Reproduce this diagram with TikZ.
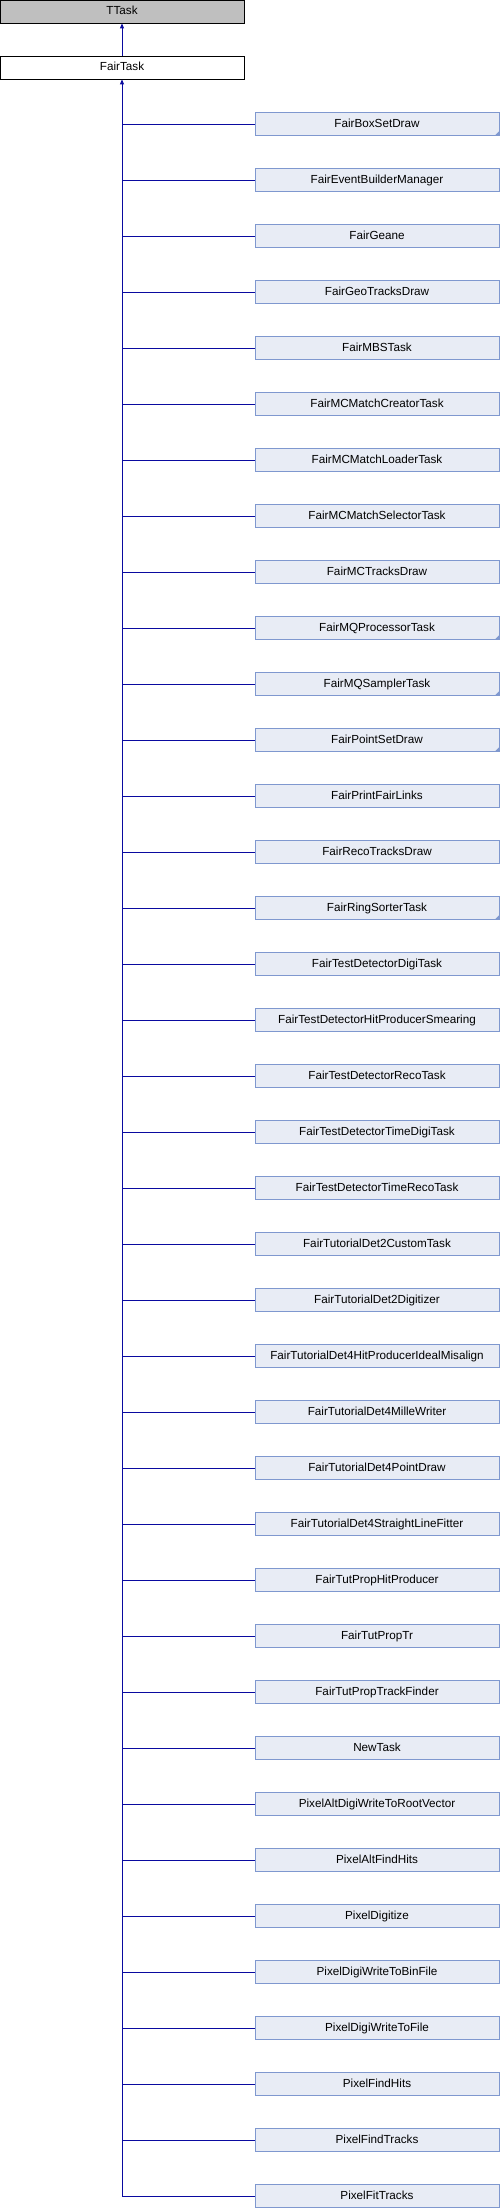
\documentclass[tikz,border=0pt]{standalone}
\usepackage{fontspec}
\setmainfont{Liberation Sans}
\usetikzlibrary{arrows.meta}
\definecolor{boxfill}{HTML}{E8ECF5}
\definecolor{boxline}{HTML}{7F98CF}
\definecolor{edgecol}{HTML}{0A0AA0}
\definecolor{basefill}{HTML}{BFBFBF}
\begin{document}
\begin{tikzpicture}[x=1pt,y=-1pt,
  cls/.style={draw=boxline, fill=boxfill, minimum width=244pt, minimum height=23pt,
    inner sep=0pt, line width=0.8pt, font=\fontsize{11.7}{13}\selectfont,
    text height=8.5pt, text depth=2pt},
  basecls/.style={cls, draw=black, fill=basefill},
  topcls/.style={cls, draw=black, fill=white},
  edge/.style={draw=edgecol, line width=0.9pt},
  tip/.style={-{Triangle[length=5pt,width=4pt]}}]
\useasboundingbox (0,0) rectangle (500,2208);
\node[basecls] (ttask) at (122,11.5) {TTask};
\node[topcls] (fairtask) at (122,67.5) {FairTask};
\draw[edge,tip] (fairtask) -- (ttask);
\foreach \n [count=\i] in {FairBoxSetDraw,FairEventBuilderManager,FairGeane,FairGeoTracksDraw,FairMBSTask,FairMCMatchCreatorTask,FairMCMatchLoaderTask,FairMCMatchSelectorTask,FairMCTracksDraw,FairMQProcessorTask,FairMQSamplerTask,FairPointSetDraw,FairPrintFairLinks,FairRecoTracksDraw,FairRingSorterTask,FairTestDetectorDigiTask,FairTestDetectorHitProducerSmearing,FairTestDetectorRecoTask,FairTestDetectorTimeDigiTask,FairTestDetectorTimeRecoTask,FairTutorialDet2CustomTask,FairTutorialDet2Digitizer,FairTutorialDet4HitProducerIdealMisalign,FairTutorialDet4MilleWriter,FairTutorialDet4PointDraw,FairTutorialDet4StraightLineFitter,FairTutPropHitProducer,FairTutPropTr,FairTutPropTrackFinder,NewTask,PixelAltDigiWriteToRootVector,PixelAltFindHits,PixelDigitize,PixelDigiWriteToBinFile,PixelDigiWriteToFile,PixelFindHits,PixelFindTracks,PixelFitTracks} {
  \node[cls] (c\i) at (377,68+56*\i) {\n};
  \draw[edge] (c\i.west) -- (c\i.west -| fairtask.south);
}
\foreach \i in {1,10,11,12,15} {
  \fill[boxline] (c\i.south east) -- ++(-5,0) -- ++(5,-5) -- cycle;
}
\draw[edge,tip] (c38.west -| fairtask.south) -- (fairtask.south);
\end{tikzpicture}
\end{document}
